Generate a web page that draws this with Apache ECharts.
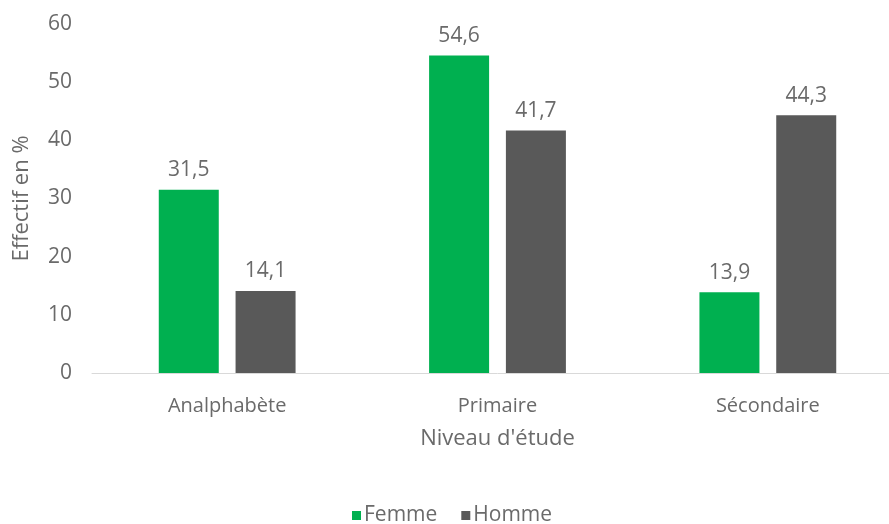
<!DOCTYPE html>
<html>
<head>
<meta charset="utf-8">
<script src="https://cdn.jsdelivr.net/npm/echarts@6/dist/echarts.min.js"></script>
<style>
  html, body { margin: 0; padding: 0; background: #fff; overflow: hidden; }
  /* the original plot runs a little past the right edge of the picture */
  #chart { width: 903px; height: 524px; }
</style>
</head>
<body>
<div id="chart"></div>
<script>
const categories = ['Analphabète', 'Primaire', 'Sécondaire'];
const femme = [31.5, 54.6, 13.9];
const homme = [14.1, 41.7, 44.3];
const yTicks = [0, 10, 20, 30, 40, 50, 60];

const fontFamily = '"Open Sans", "Noto Sans", sans-serif';
const textColor = '#6a6a6a';

const chart = echarts.init(document.getElementById('chart'));

const labelOpt = {
  show: true,
  position: 'top',
  distance: 9,
  color: textColor,
  fontFamily: fontFamily,
  fontSize: 21,
  formatter: (p) => String(p.value).replace('.', ','),
};

chart.setOption({
  backgroundColor: '#fff',
  animation: false,
  grid: { left: 92, right: 0, top: 24, bottom: 151 },
  legend: {
    data: ['Femme', 'Homme'],
    top: 500,
    left: 347,
    itemWidth: 9,
    itemHeight: 9,
    itemGap: 24,
    icon: 'rect',
    textStyle: { color: textColor, fontFamily: fontFamily, fontSize: 21, padding: [0, 0, 0, -2] },
  },
  xAxis: {
    type: 'category',
    data: categories,
    name: "Niveau d'étude",
    nameLocation: 'middle',
    nameGap: 55,
    nameTextStyle: { color: textColor, fontFamily: fontFamily, fontSize: 22 },
    axisLine: { lineStyle: { color: '#d9d9d9' } },
    axisTick: { show: false },
    axisLabel: { color: textColor, fontFamily: fontFamily, fontSize: 20, margin: 23 },
  },
  yAxis: {
    type: 'value',
    min: yTicks[0],
    max: yTicks[yTicks.length - 1],
    interval: 10,
    name: 'Effectif en %',
    nameLocation: 'middle',
    nameGap: 59,
    nameTextStyle: { color: textColor, fontFamily: fontFamily, fontSize: 22 },
    axisLine: { show: false },
    axisTick: { show: false },
    splitLine: { show: false },
    axisLabel: { color: textColor, fontFamily: fontFamily, fontSize: 21, margin: 20 },
  },
  series: [
    {
      name: 'Femme',
      type: 'bar',
      data: femme,
      barWidth: 60,
      barGap: '28%',
      itemStyle: { color: '#00b050' },
      label: labelOpt,
    },
    {
      name: 'Homme',
      type: 'bar',
      data: homme,
      barWidth: 60,
      itemStyle: { color: '#595959' },
      label: labelOpt,
    },
  ],
});
</script>
</body>
</html>
